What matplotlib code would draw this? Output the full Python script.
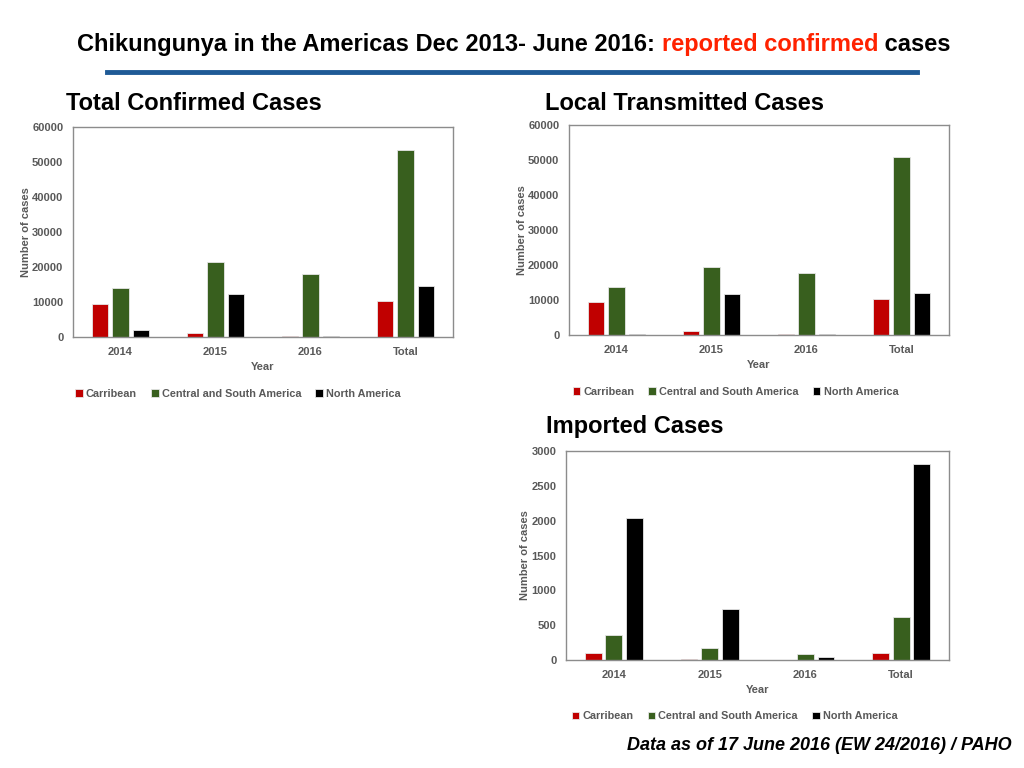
import matplotlib
matplotlib.use("Agg")
import matplotlib.pyplot as plt
import numpy as np

# data
years = ["2014", "2015", "2016", "Total"]
regions = ["Carribean", "Central and South America", "North America"]

total_carribean = [9500, 1000, 300, 10400]
total_csa = [13900, 21500, 18000, 53300]
total_na = [2100, 12200, 300, 14700]

local_carribean = [9300, 1050, 400, 10400]
local_csa = [13600, 19400, 17850, 50900]
local_na = [400, 11700, 400, 11900]

imported_carribean = [105, 20, 0, 105]
imported_csa = [355, 177, 91, 618]
imported_na = [2041, 728, 38, 2817]

colors = ["#c00000", "#385f1e", "#000000"]
grey = "#595959"

plt.rcParams["font.family"] = ["Liberation Sans", "DejaVu Sans"]

fig = plt.figure(figsize=(10.24, 7.68), dpi=100)


def bar_chart(rect, series, ymax, ystep, title, title_xy, leg_x):
    ax = fig.add_axes(rect)
    x = np.arange(len(years))
    w = 0.175
    step = 0.216
    for i, vals in enumerate(series):
        ax.bar(x + (i - 1) * step, vals, width=w, color=colors[i],
               edgecolor="#e6e6e6", linewidth=0.6, label=regions[i], zorder=2)
    ax.set_xlim(-0.5, len(years) - 0.5)
    ax.set_ylim(0, ymax)
    ax.set_yticks(np.arange(0, ymax + 1, ystep))
    ax.set_xticks(x)
    ax.set_xticklabels(years)
    ax.tick_params(length=0, labelsize=8, labelcolor=grey, pad=7)
    for lab in ax.get_xticklabels() + ax.get_yticklabels():
        lab.set_fontweight("bold")
    for s in ax.spines.values():
        s.set_color("#8c8c8c")
        s.set_linewidth(1.0)
    ax.set_xlabel("Year", fontsize=8, fontweight="bold", color=grey, labelpad=4)
    ax.set_ylabel("Number of cases", fontsize=8, fontweight="bold", color=grey, labelpad=1)
    ax.legend(loc="center", bbox_to_anchor=(leg_x, -0.27), ncol=3, frameon=False,
              handlelength=0.7, handleheight=0.7, handletextpad=0.3,
              columnspacing=1.3, labelcolor=grey, prop={"weight": "bold", "size": 7.8})
    fig.text(title_xy[0] / 1024, 1 - title_xy[1] / 768, title, fontsize=17,
             fontweight="bold", ha="left", va="center")
    return ax


bar_chart([73 / 1024, 1 - 337 / 768, 380 / 1024, 210 / 768],
          [total_carribean, total_csa, total_na], 60000, 10000,
          "Total Confirmed Cases", (66, 103), 0.434)
bar_chart([569 / 1024, 1 - 335 / 768, 380 / 1024, 210 / 768],
          [local_carribean, local_csa, local_na], 60000, 10000,
          "Local Transmitted Cases", (545, 103), 0.438)
bar_chart([566 / 1024, 1 - 660 / 768, 383 / 1024, 209 / 768],
          [imported_carribean, imported_csa, imported_na], 3000, 500,
          "Imported Cases", (546, 426), 0.44)

# main title with red part
title_parts = [("Chikungunya in the Americas Dec 2013- June 2016: ", "black"),
               ("reported confirmed", "#ff2200"),
               (" cases", "black")]
fig.canvas.draw()
renderer = fig.canvas.get_renderer()
texts = []
for s, c in title_parts:
    t = fig.text(0, 1 - 46 / 768, s, fontsize=17, fontweight="bold", color=c,
                 ha="left", va="baseline")
    texts.append(t)
widths = [t.get_window_extent(renderer).width for t in texts]
x0 = (1024 - sum(widths)) / 2 + 2
for t, wd in zip(texts, widths):
    t.set_x(x0 / 1024)
    x0 += wd
for t in texts:
    t.set_y(1 - 51 / 768)

fig.add_artist(plt.Line2D([107 / 1024, 917 / 1024], [1 - 72 / 768, 1 - 72 / 768],
                          color="#1f5a96", linewidth=3.5))

fig.text(1012 / 1024, 1 - 745 / 768, "Data as of 17 June 2016 (EW 24/2016) / PAHO",
         fontsize=13, fontweight="bold", fontstyle="italic", ha="right", va="center")

fig.savefig("out.png", dpi=100)
